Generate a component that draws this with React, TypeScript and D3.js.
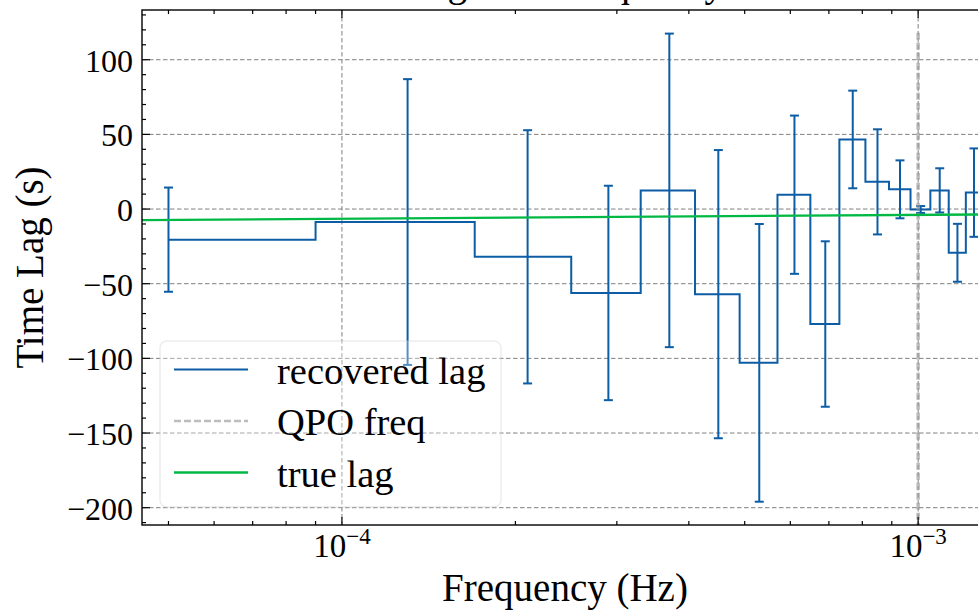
import React from 'react';
import * as d3 from 'd3';

// ---- data ----
const freqs = [5e-5, 1.3e-4, 2.1e-4, 2.9e-4, 3.7e-4, 4.5e-4, 5.3e-4, 6.1e-4, 6.9e-4, 7.7e-4, 8.5e-4, 9.3e-4, 1.01e-3, 1.09e-3, 1.17e-3, 1.25e-3, 1.33e-3];
const lags = [-20.5, -8.7, -32, -56.2, 12.5, -57, -103, 9.6, -77, 46.6, 18.2, 13.2, -0.3, 12.5, -29.3, 11, 5];
const lagErrors = [34.9, 95.7, 84.8, 71.8, 105, 96.5, 93, 53, 55.4, 32.7, 35.2, 19.4, 2.3, 14.8, 19.4, 29.6, 20];
const qpoFreq = 1e-3;
const trueLagFreqs = [4.4e-5, 1.4e-3];
const trueLagValues = [-7.45, -3.5];
const yMajorTicks = [-200, -150, -100, -50, 0, 50, 100];
const xMajorTicks = [1e-4, 1e-3];
const xTickExponents = ['−4', '−3'];
const legendLabels = ['recovered lag', 'QPO freq', 'true lag'];

const W = 978;
const H = 612;
const M = { left: 142, right: 988, top: 10, bottom: 525 };
const BLUE = '#0C5DA5';
const GREEN = '#00B945';
const FONT = '"Liberation Serif", "Times New Roman", serif';

export default function App() {
  const x = d3.scaleLog().domain([4.498e-5, 1.322e-3]).range([M.left, M.right]);
  const y = d3.scaleLinear().domain([-211.6, 133.3]).range([M.bottom, M.top]);

  // minor ticks
  const xMinor: number[] = [];
  for (let e = -5; e <= -3; e++) {
    for (let k = 2; k <= 9; k++) {
      const v = k * Math.pow(10, e);
      if (v >= x.domain()[0] && v <= x.domain()[1]) xMinor.push(v);
    }
  }
  const yMinor: number[] = d3.range(-210, 131, 10).filter((v) => v % 50 !== 0);

  // step "mid" path computed in data space (like matplotlib)
  const stepPts: [number, number][] = [];
  stepPts.push([freqs[0], lags[0]]);
  for (let i = 0; i < freqs.length - 1; i++) {
    const m = (freqs[i] + freqs[i + 1]) / 2;
    stepPts.push([m, lags[i]]);
    stepPts.push([m, lags[i + 1]]);
  }
  stepPts.push([freqs[freqs.length - 1], lags[lags.length - 1]]);
  const line = d3.line<[number, number]>().x((d) => x(d[0])).y((d) => y(d[1]));
  const stepPath = line(stepPts) || '';
  const truePath = line(trueLagFreqs.map((f, i) => [f, trueLagValues[i]] as [number, number])) || '';

  const gridStyle = { stroke: '#808080', strokeWidth: 1, strokeDasharray: '4.5,2.5' };
  const capHalf = 4.5;

  const legendRowsY = [369.5, 421, 472.5];

  return (
    <svg width={W} height={H} style={{ position: 'absolute', left: 0, top: 0, background: '#fff' }} fontFamily={FONT}>
      <defs>
        <clipPath id="plotclip">
          <rect x={M.left} y={M.top} width={M.right - M.left} height={M.bottom - M.top} />
        </clipPath>
      </defs>
      <rect x={0} y={0} width={W} height={H} fill="#fff" />

      {/* title (cut off at the top edge, as in the reference) */}
      <text x={565} y={-3.6} fontSize={39.4} textAnchor="middle" style={{ wordSpacing: '18px' }} fill="#000">
        Lag vs Frequency
      </text>

      {/* grid */}
      <g>
        {yMajorTicks.map((v) => (
          <line key={'gy' + v} x1={M.left} x2={M.right} y1={y(v)} y2={y(v)} {...gridStyle} />
        ))}
        {xMajorTicks.map((v) => (
          <line key={'gx' + v} x1={x(v)} x2={x(v)} y1={M.top} y2={M.bottom} {...gridStyle} />
        ))}
      </g>

      <g clipPath="url(#plotclip)">
        {/* recovered lag step */}
        <path d={stepPath} fill="none" stroke={BLUE} strokeWidth={2} />
        {/* error bars */}
        {freqs.map((f, i) => {
          const cx = x(f);
          const y1 = y(lags[i] + lagErrors[i]);
          const y2 = y(lags[i] - lagErrors[i]);
          return (
            <g key={'eb' + i} stroke={BLUE} strokeWidth={2}>
              <line x1={cx} x2={cx} y1={y1} y2={y2} />
              <line x1={cx - capHalf} x2={cx + capHalf} y1={y1} y2={y1} />
              <line x1={cx - capHalf} x2={cx + capHalf} y1={y2} y2={y2} />
            </g>
          );
        })}
        {/* QPO frequency */}
        <line x1={x(qpoFreq)} x2={x(qpoFreq)} y1={y(118)} y2={M.bottom} stroke="#9a9a9a" strokeOpacity={0.65} strokeWidth={3.5} strokeDasharray="7,3" />
        {/* true lag */}
        <path d={truePath} fill="none" stroke={GREEN} strokeWidth={2.4} />
      </g>

      {/* spines */}
      <rect x={M.left} y={M.top} width={M.right - M.left} height={M.bottom - M.top} fill="none" stroke="#000" strokeWidth={1.4} />

      {/* ticks */}
      <g stroke="#000" strokeWidth={1.2}>
        {yMajorTicks.map((v) => (
          <g key={'ty' + v}>
            <line x1={M.left} x2={M.left + 8} y1={y(v)} y2={y(v)} />
            <line x1={M.right} x2={M.right - 8} y1={y(v)} y2={y(v)} />
          </g>
        ))}
        {yMinor.map((v) => (
          <g key={'tym' + v}>
            <line x1={M.left} x2={M.left + 4} y1={y(v)} y2={y(v)} />
            <line x1={M.right} x2={M.right - 4} y1={y(v)} y2={y(v)} />
          </g>
        ))}
        {xMajorTicks.map((v) => (
          <g key={'tx' + v}>
            <line x1={x(v)} x2={x(v)} y1={M.bottom} y2={M.bottom - 8} />
            <line x1={x(v)} x2={x(v)} y1={M.top} y2={M.top + 8} />
          </g>
        ))}
        {xMinor.map((v) => (
          <g key={'txm' + v}>
            <line x1={x(v)} x2={x(v)} y1={M.bottom} y2={M.bottom - 4} />
            <line x1={x(v)} x2={x(v)} y1={M.top} y2={M.top + 4} />
          </g>
        ))}
      </g>

      {/* y tick labels */}
      {yMajorTicks.map((v) => (
        <text key={'yl' + v} x={133} y={y(v) + 12} fontSize={32} textAnchor="end" fill="#000">
          {v < 0 ? '−' + Math.abs(v) : String(v)}
        </text>
      ))}
      {/* x tick labels */}
      {xMajorTicks.map((v, i) => (
        <text key={'xl' + v} x={x(v)} y={557} fontSize={33} textAnchor="middle" fill="#000">
          10
          <tspan dy={-13} fontSize={23}>{xTickExponents[i]}</tspan>
        </text>
      ))}

      {/* axis labels */}
      <text x={(M.left + M.right) / 2} y={601} fontSize={39} textAnchor="middle" fill="#000">
        Frequency (Hz)
      </text>
      <text transform={`translate(43, ${(M.top + M.bottom) / 2}) rotate(-90)`} fontSize={39} textAnchor="middle" fill="#000">
        Time Lag (s)
      </text>

      {/* legend */}
      <g>
        <rect x={160} y={341} width={341} height={166} rx={7} ry={7} fill="#fff" fillOpacity={0.3} stroke="#cccccc" strokeOpacity={0.35} strokeWidth={1.5} />
        <line x1={174} x2={248} y1={legendRowsY[0]} y2={legendRowsY[0]} stroke={BLUE} strokeWidth={2} />
        <line x1={174} x2={248} y1={legendRowsY[1]} y2={legendRowsY[1]} stroke="#9a9a9a" strokeOpacity={0.65} strokeWidth={2.5} strokeDasharray="7,3" />
        <line x1={174} x2={248} y1={legendRowsY[2]} y2={legendRowsY[2]} stroke={GREEN} strokeWidth={2.4} />
        {legendLabels.map((t, i) => (
          <text key={t} x={277} y={legendRowsY[i] + 14} fontSize={38.5} fill="#000">
            {t}
          </text>
        ))}
      </g>
    </svg>
  );
}
